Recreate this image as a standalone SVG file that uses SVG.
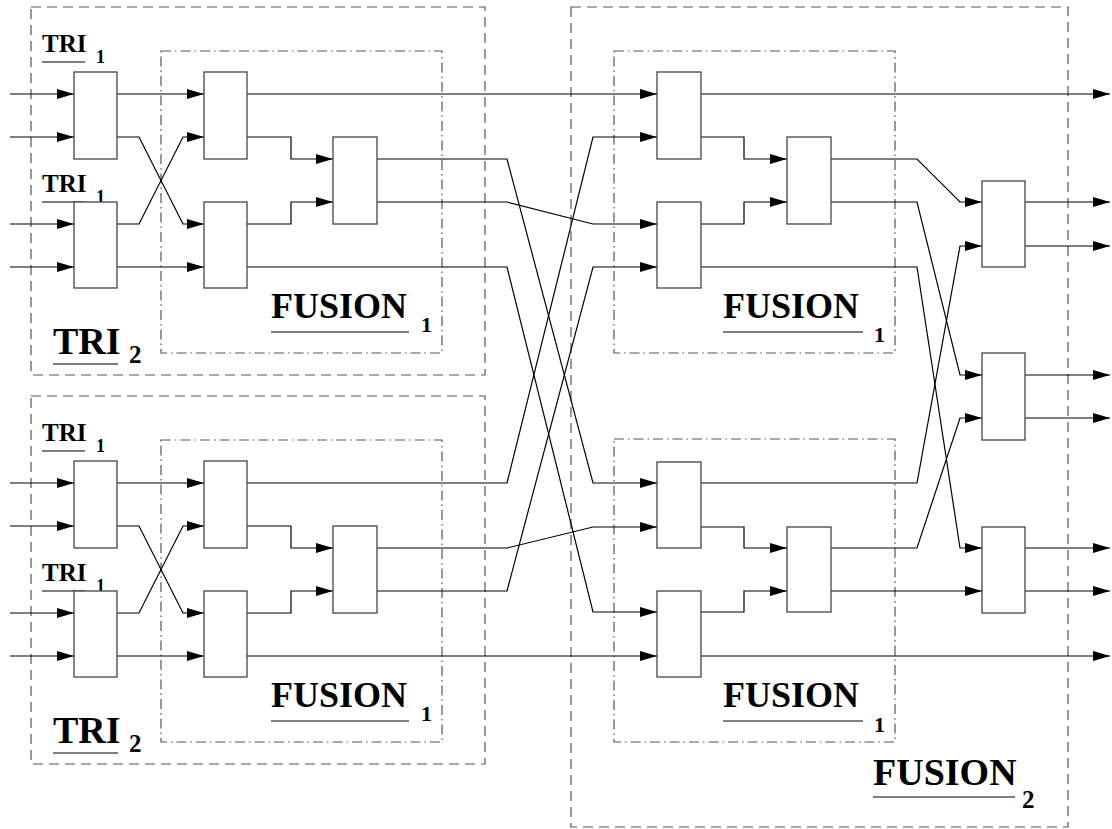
<svg xmlns="http://www.w3.org/2000/svg" width="1112" height="829" viewBox="0 0 1112 829">
<style>
.dash{fill:none;stroke:#555;stroke-width:1.2;stroke-dasharray:10 6}
.dd{fill:none;stroke:#555;stroke-width:1.2;stroke-dasharray:10 4 1.5 4}
.box{fill:#fff;stroke:#444;stroke-width:1.3}
.w{fill:none;stroke:#000;stroke-width:1.2}
.wa{fill:none;stroke:#000;stroke-width:1.2;marker-end:url(#arr)}
.ul{stroke:#555;stroke-width:1.5}
.big{font-family:"Liberation Serif","Times New Roman",serif;font-weight:bold;font-size:38px;fill:#000}
.mid{font-family:"Liberation Serif","Times New Roman",serif;font-weight:bold;font-size:36px;fill:#000}
.sm{font-family:"Liberation Serif","Times New Roman",serif;font-weight:bold;font-size:25px;fill:#000}
.sub{font-family:"Liberation Serif","Times New Roman",serif;font-weight:bold;font-size:22px;fill:#000}
.sub2{font-family:"Liberation Serif","Times New Roman",serif;font-weight:bold;font-size:18px;fill:#000}
</style>
<defs>
<marker id="arr" markerUnits="userSpaceOnUse" markerWidth="17" markerHeight="10" refX="17" refY="5" orient="auto">
<path d="M0,0 L17,5 L0,10 z" fill="#000"/>
</marker>
</defs>
<rect width="1112" height="829" fill="#fff"/>

<!-- group frames -->
<g id="tri2-top">
<rect class="dash" x="31" y="7" width="454" height="368"/>
<text class="big" x="53" y="354">TRI</text><line class="ul" x1="53" y1="364" x2="118" y2="364"/><text class="sm" x="129" y="363">2</text>
</g>
<g id="tri2-bottom">
<rect class="dash" x="31" y="396" width="454" height="368"/>
<text class="big" x="53" y="743">TRI</text><line class="ul" x1="53" y1="753" x2="118" y2="753"/><text class="sm" x="129" y="752">2</text>
</g>
<g id="fusion1-top-left">
<rect class="dd" x="161" y="51" width="281" height="302"/>
<text class="mid" x="271" y="318">FUSION</text><line class="ul" x1="271" y1="332" x2="409" y2="332"/><text class="sub" x="421" y="332">1</text>
</g>
<g id="fusion1-bottom-left">
<rect class="dd" x="161" y="440" width="281" height="302"/>
<text class="mid" x="271" y="707">FUSION</text><line class="ul" x1="271" y1="721" x2="409" y2="721"/><text class="sub" x="421" y="721">1</text>
</g>
<g id="fusion2">
<rect class="dash" x="571" y="7" width="497" height="820"/>
<text class="big" x="873" y="785">FUSION</text><line class="ul" x1="873" y1="797" x2="1015" y2="797"/><text class="sm" x="1022" y="808">2</text>
</g>
<g id="fusion1-top-right">
<rect class="dd" x="614" y="51" width="281" height="302"/>
<text class="mid" x="723" y="318">FUSION</text><line class="ul" x1="723" y1="332" x2="863" y2="332"/><text class="sub" x="874" y="342">1</text>
</g>
<g id="fusion1-bottom-right">
<rect class="dd" x="614" y="439" width="281" height="303"/>
<text class="mid" x="723" y="707">FUSION</text><line class="ul" x1="723" y1="721" x2="863" y2="721"/><text class="sub" x="874" y="732">1</text>
</g>

<!-- TRI1 labels -->
<g id="tri1-labels">
<text class="sm" x="42" y="52">TRI</text><line class="ul" x1="42" y1="62" x2="85" y2="62"/><text class="sub2" x="96" y="63">1</text>
<text class="sm" x="42" y="192">TRI</text><line class="ul" x1="42" y1="202" x2="85" y2="202"/><text class="sub2" x="96" y="203">1</text>
<text class="sm" x="42" y="441">TRI</text><line class="ul" x1="42" y1="451" x2="85" y2="451"/><text class="sub2" x="96" y="452">1</text>
<text class="sm" x="42" y="581">TRI</text><line class="ul" x1="42" y1="591" x2="85" y2="591"/><text class="sub2" x="96" y="592">1</text>
</g>

<!-- connectors -->
<g id="connectors">
<path class="wa" d="M10,94 H74"/><path class="wa" d="M10,137 H74"/><path class="wa" d="M10,224 H74"/><path class="wa" d="M10,267 H74"/>
<path class="wa" d="M117,94 H204"/>
<path class="wa" d="M117,137 H139 L183,224 H204"/>
<path class="wa" d="M117,224 H139 L183,137 H204"/>
<path class="wa" d="M117,267 H204"/>
<path class="wa" d="M247,137 H291 V159 H333"/>
<path class="wa" d="M247,224 H291 V202 H333"/>

<path class="wa" d="M10,483 H74"/><path class="wa" d="M10,526 H74"/><path class="wa" d="M10,613 H74"/><path class="wa" d="M10,656 H74"/>
<path class="wa" d="M117,483 H204"/>
<path class="wa" d="M117,526 H139 L183,613 H204"/>
<path class="wa" d="M117,613 H139 L183,526 H204"/>
<path class="wa" d="M117,656 H204"/>
<path class="wa" d="M247,526 H291 V548 H333"/>
<path class="wa" d="M247,613 H291 V591 H333"/>

<path class="wa" d="M247,94 H657"/>
<path class="wa" d="M377,159 H507 L593,483 H657"/>
<path class="wa" d="M377,202 H507 L593,224 H657"/>
<path class="wa" d="M247,267 H507 L593,612 H657"/>
<path class="wa" d="M247,483 H507 L593,137 H657"/>
<path class="wa" d="M377,548 H507 L593,527 H657"/>
<path class="wa" d="M377,591 H507 L593,267 H657"/>
<path class="wa" d="M247,656 H657"/>

<path class="wa" d="M701,137 H744 V159 H787"/>
<path class="wa" d="M701,224 H744 V202 H787"/>
<path class="wa" d="M701,527 H744 V548 H787"/>
<path class="wa" d="M701,612 H744 V591 H787"/>

<path class="wa" d="M701,94 H1110"/>
<path class="wa" d="M831,159 H917 L960,202 H982"/>
<path class="wa" d="M831,202 H917 L960,375 H982"/>
<path class="wa" d="M701,267 H917 L960,548 H982"/>
<path class="wa" d="M701,483 H917 L960,246 H982"/>
<path class="wa" d="M831,548 H917 L960,418 H982"/>
<path class="wa" d="M831,591 H982"/>
<path class="wa" d="M701,656 H1110"/>

<path class="wa" d="M1025,202 H1110"/><path class="wa" d="M1025,246 H1110"/>
<path class="wa" d="M1025,375 H1110"/><path class="wa" d="M1025,418 H1110"/>
<path class="wa" d="M1025,548 H1110"/><path class="wa" d="M1025,591 H1110"/>
</g>

<!-- nodes -->
<g id="A1"><rect class="box" x="74" y="72" width="43" height="87"/></g>
<g id="A2"><rect class="box" x="74" y="202" width="43" height="86"/></g>
<g id="B1"><rect class="box" x="204" y="72" width="43" height="87"/></g>
<g id="B2"><rect class="box" x="204" y="202" width="43" height="86"/></g>
<g id="C1"><rect class="box" x="333" y="137" width="44" height="87"/></g>
<g id="A3"><rect class="box" x="74" y="461" width="43" height="87"/></g>
<g id="A4"><rect class="box" x="74" y="591" width="43" height="86"/></g>
<g id="B3"><rect class="box" x="204" y="461" width="43" height="87"/></g>
<g id="B4"><rect class="box" x="204" y="591" width="43" height="86"/></g>
<g id="C2"><rect class="box" x="333" y="526" width="44" height="87"/></g>
<g id="D1"><rect class="box" x="657" y="72" width="44" height="87"/></g>
<g id="D2"><rect class="box" x="657" y="202" width="44" height="86"/></g>
<g id="E1"><rect class="box" x="787" y="137" width="44" height="87"/></g>
<g id="D3"><rect class="box" x="657" y="462" width="44" height="86"/></g>
<g id="D4"><rect class="box" x="657" y="591" width="44" height="86"/></g>
<g id="E2"><rect class="box" x="787" y="527" width="44" height="85"/></g>
<g id="F1"><rect class="box" x="982" y="181" width="43" height="86"/></g>
<g id="F2"><rect class="box" x="982" y="353" width="43" height="87"/></g>
<g id="F3"><rect class="box" x="982" y="527" width="43" height="86"/></g>
</svg>
